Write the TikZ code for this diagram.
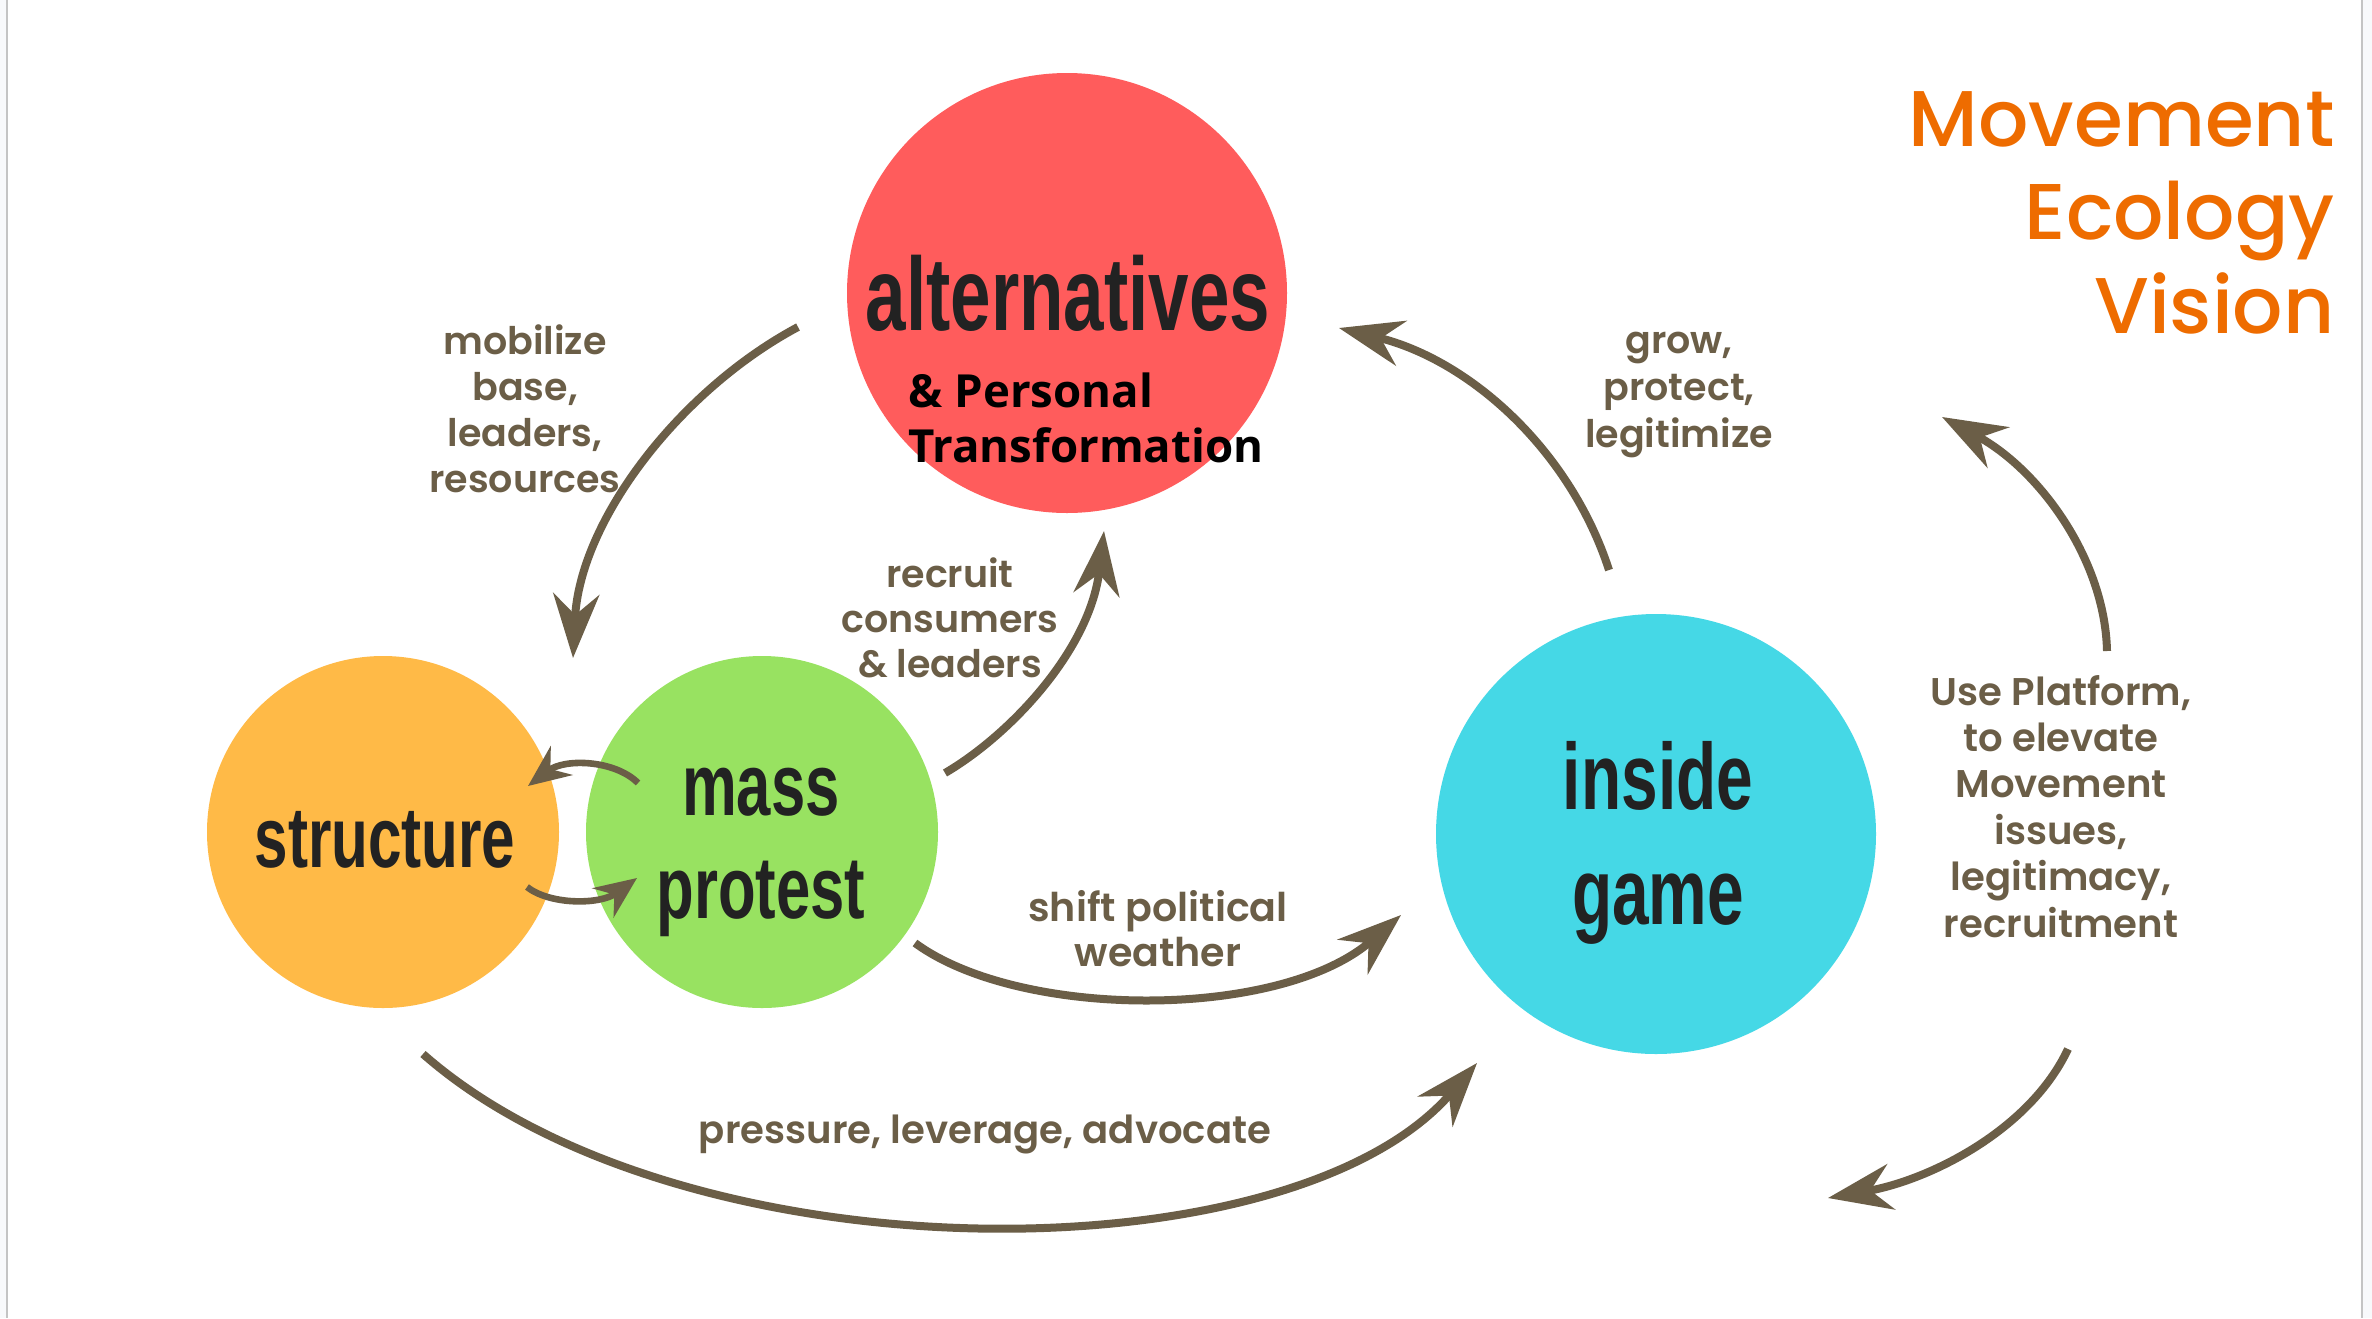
\documentclass[tikz,border=0pt]{standalone}
\usepackage{fontspec}
\usetikzlibrary{arrows.meta}

\newfontfamily\circfont{Liberation Sans Bold}[FakeStretch=0.7]
\newfontfamily\labelfont{Poppins SemiBold}
\newfontfamily\titlefont{Poppins Medium}
\newfontfamily\opensans{Open Sans}

\definecolor{altred}{HTML}{FF5C5C}
\definecolor{structorange}{HTML}{FFBA47}
\definecolor{massgreen}{HTML}{98E261}
\definecolor{insidecyan}{HTML}{45D8E6}
\definecolor{flowbrown}{HTML}{6B5E47}
\definecolor{titleorange}{HTML}{EE6C00}
\definecolor{circtext}{HTML}{222222}
\definecolor{bordergray}{HTML}{C4C4C4}
\definecolor{stripgray}{HTML}{F8F9FB}

\begin{document}
\begin{tikzpicture}[x=0.5pt,y=-0.5pt,
	circ node/.style={circle,inner sep=0pt,minimum size=#1},
	circ text/.style={anchor=base,align=center,text=circtext,inner sep=0pt,
		font=\circfont\fontsize{#1}{#1}\selectfont},
	label node/.style={anchor=base,align=center,text=flowbrown,inner sep=0pt,
		font=\labelfont\fontsize{19pt}{23pt}\selectfont},
	flow/.style={draw=flowbrown,line width=4pt,
		-{Stealth[length=32pt,width=23pt,inset=10.5pt]}},
	small flow/.style={draw=flowbrown,line width=3.3pt,
		-{Stealth[length=21pt,width=18pt,inset=7pt]}}]
	
	\useasboundingbox (0,0) rectangle (2372,1318);
	\fill[white] (0,0) rectangle (2372,1318);
	\fill[stripgray] (0,0) rectangle (6,1318);
	\fill[stripgray] (2363,0) rectangle (2372,1318);
	\draw[bordergray,line width=1pt] (6.5,0) -- (6.5,1318);
	\draw[bordergray,line width=1pt] (2362,0) -- (2362,1318);
	
	% circles
	\node[circ node=220pt,fill=altred] (alt) at (1067,293) {};
	\node[circ node=176pt,fill=structorange] (struct) at (383,832) {};
	\node[circ node=176pt,fill=massgreen] (mass) at (762,832) {};
	\node[circ node=220pt,fill=insidecyan] (inside) at (1656,834) {};
	
	% circle texts (base = last line)
	\node[circ text=52pt] (altT) at (1068,330) {alternatives};
	\node[circ text=43pt] (structT) at (385,867) {structure};
	\node[circ text=44pt,font=\circfont\fontsize{44pt}{51.5pt}\selectfont] (massT) at (761,918) {mass\\protest};
	\node[circ text=47pt,font=\circfont\fontsize{47pt}{57.5pt}\selectfont] (insideT) at (1658,924) {inside\\game};
	\node[anchor=base west,align=left,inner sep=0pt,
		font=\opensans\bfseries\fontsize{22.8pt}{27.5pt}\selectfont] (personal) at (908,462) {\& Personal\\Transformation};
	
	% labels
	\node[label node] (mobL) at (525,492) {mobilize\\base,\\leaders,\\resources};
	\node[label node,font=\labelfont\fontsize{19pt}{22.3pt}\selectfont] (recL) at (950,677) {recruit\\consumers\\\& leaders};
	\node[label node,font=\labelfont\fontsize{19pt}{23.5pt}\selectfont] (growL) at (1679,447) {grow,\\protect,\\legitimize};
	\node[label node,font=\labelfont\fontsize{19.8pt}{22.5pt}\selectfont] (shiftL) at (1158,966) {shift political\\weather};
	\node[label node,font=\labelfont\fontsize{19.3pt}{23pt}\selectfont] (pressL) at (985,1143) {pressure, leverage, advocate};
	\node[label node,font=\labelfont\fontsize{19.3pt}{23.2pt}\selectfont] (platL) at (2061,937) {Use Platform,\\to elevate\\Movement\\issues,\\legitimacy,\\recruitment};
	
	\node[anchor=base east,align=right,inner sep=0pt,text=titleorange,
		font=\titlefont\fontsize{39.5pt}{46.75pt}\selectfont] (title) at (2335,333) {Movement\\Ecology\\Vision};
	
	% arrow ends
	\coordinate (mobA) at (798,327);
	\coordinate (mobB) at (573,658);
	\coordinate (smA) at (527,887);
	\coordinate (smB) at (637,878);
	\coordinate (msA) at (638,783);
	\coordinate (msB) at (528,786);
	\coordinate (recA) at (945,773);
	\coordinate (recB) at (1104,531);
	\coordinate (shiftA) at (915,943);
	\coordinate (shiftB) at (1401,915);
	\coordinate (pressA) at (423,1054);
	\coordinate (pressB) at (1477,1063);
	\coordinate (growA) at (1609,570);
	\coordinate (growB) at (1339,328);
	\coordinate (upA) at (2107,651);
	\coordinate (upB) at (1942,417);
	\coordinate (downA) at (2068,1049);
	\coordinate (downB) at (1828,1198);
	
	\draw[flow] (mobA) .. controls (680,390) and (580,520) .. (mobB);
	\draw[small flow] (smA) .. controls (550,905) and (600,905) .. (smB);
	\draw[small flow] (msA) .. controls (615,760) and (565,758) .. (msB);
	\draw[flow] (recA) .. controls (1010,735) and (1090,650) .. (recB);
	\draw[flow] (shiftA) .. controls (1020,1020) and (1280,1020) .. (shiftB);
	\draw[flow] (pressA) .. controls (680,1280) and (1290,1280) .. (pressB);
	\draw[flow] (growA) .. controls (1570,450) and (1470,360) .. (growB);
	\draw[flow] (upA) .. controls (2105,560) and (2040,470) .. (upB);
	\draw[flow] (downA) .. controls (2030,1130) and (1930,1180) .. (downB);
\end{tikzpicture}
\end{document}
